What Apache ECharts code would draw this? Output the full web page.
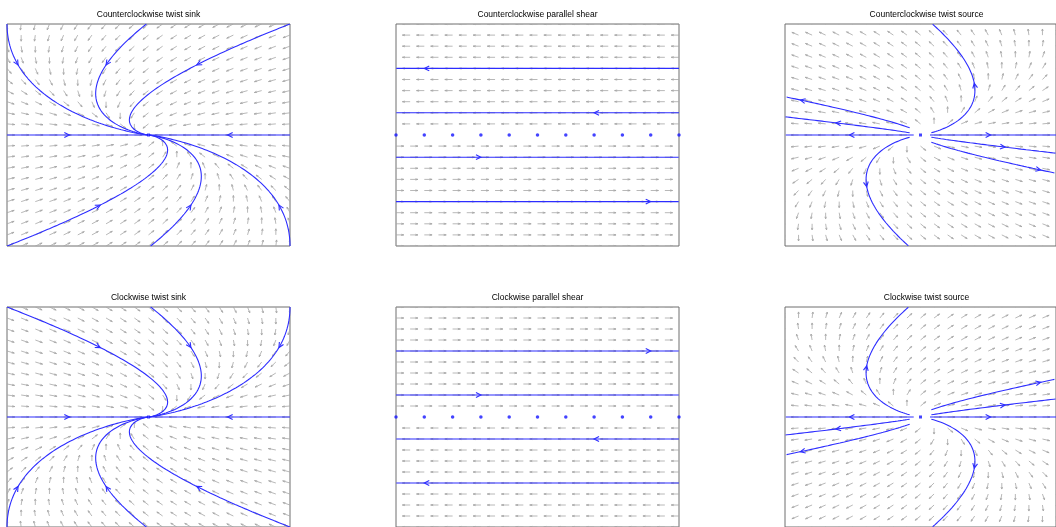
<!DOCTYPE html>
<html><head><meta charset="utf-8">
<script src="https://cdn.jsdelivr.net/npm/echarts@6/dist/echarts.min.js"></script>
<style>html,body{margin:0;padding:0;background:#fff}#c{width:1056px;height:527px}</style>
</head><body><div id="c"></div>
<script>
// ---------- data ----------
const panelTitles = ['Counterclockwise twist sink', 'Counterclockwise parallel shear', 'Counterclockwise twist source',
                     'Clockwise twist sink', 'Clockwise parallel shear', 'Clockwise twist source'];
// linear systems  [x', y'] = A [x, y]
const matrixCcwSink   = [[-1, -1], [0, -1]];
const matrixCcwShear  = [[0, -1], [0, 0]];
const matrixCcwSource = [[1, -1], [0, 1]];
const matrixCwSink    = [[-1, 1], [0, -1]];
const matrixCwShear   = [[0, 1], [0, 0]];
const matrixCwSource  = [[1, 1], [0, 1]];
// direction-field sample positions (both axes)
const fieldGrid = [-1, -0.9, -0.8, -0.7, -0.6, -0.5, -0.4, -0.3, -0.2, -0.1, 0, 0.1, 0.2, 0.3, 0.4, 0.5, 0.6, 0.7, 0.8, 0.9, 1];
const axisMin = -1, axisMax = 1;
// trajectory start points and arrow times
const startsCcwSink   = [[-1, 1], [-0.015, 1], [1, 1], [-1, 0], [1, 0], [1, -1], [0.015, -1], [-1, -1]];
const arrowTCcwSink   = [0.46, 0.46, 0.46, 0.58, 0.58, 0.46, 0.46, 0.46];
const startsCwSink    = [[-1, -1], [-0.015, -1], [1, -1], [-1, 0], [1, 0], [1, 1], [0.015, 1], [-1, 1]];
const arrowTCwSink    = [0.46, 0.46, 0.46, 0.58, 0.58, 0.46, 0.46, 0.46];
const startsCcwShear  = [[1, 0.6], [1, 0.2], [-1, -0.2], [-1, -0.6]];
const arrowTCcwShear  = [3, 3, 3, 3];
const startsCwShear   = [[-1, 0.6], [-1, 0.2], [1, -0.2], [1, -0.6]];
const arrowTCwShear   = [3, 3, 3, 3];
const startsCcwSource = [[0.08, 0.02], [-0.08, 0.065], [-0.08, 0.02], [0.07, 0], [-0.05, 0], [-0.08, -0.02], [0.08, -0.065], [0.08, -0.02]];
const arrowTCcwSource = [3.15, 1.58, 1.7, 2.0, 2.35, 3.15, 1.58, 1.7];
const startsCwSource  = [[0.08, -0.02], [-0.08, -0.065], [-0.08, -0.02], [0.07, 0], [-0.05, 0], [-0.08, 0.02], [0.08, 0.065], [0.08, 0.02]];
const arrowTCwSource  = [3.15, 1.58, 1.7, 2.0, 2.35, 3.15, 1.58, 1.7];
// equilibrium points drawn as dots
const shearDotsX = [-1, -0.8, -0.6, -0.4, -0.2, 0, 0.2, 0.4, 0.6, 0.8, 1];
const originPoint = [[0, 0]];

// ---------- layout / style ----------
const gridLefts = [7, 396, 785], gridTops = [24, 307], gridW = 283, gridH = 222;
const TRAJ = 'rgb(45,45,255)', FIELD = '#a6a6a6', FRAME = '#6e6e6e';
const arrowLen = 0.055;  // field arrow length in data units
const dt = 0.01;

const panels = [
  {A: matrixCcwSink, starts: startsCcwSink, arrowT: arrowTCcwSink, kind: 'twist'},
  {A: matrixCcwShear, starts: startsCcwShear, arrowT: arrowTCcwShear, kind: 'shear'},
  {A: matrixCcwSource, starts: startsCcwSource, arrowT: arrowTCcwSource, kind: 'twist'},
  {A: matrixCwSink, starts: startsCwSink, arrowT: arrowTCwSink, kind: 'twist'},
  {A: matrixCwShear, starts: startsCwShear, arrowT: arrowTCwShear, kind: 'shear'},
  {A: matrixCwSource, starts: startsCwSource, arrowT: arrowTCwSource, kind: 'twist'}
];

function field(A, p) { return [A[0][0]*p[0] + A[0][1]*p[1], A[1][0]*p[0] + A[1][1]*p[1]]; }
function integrate(A, p0) {
  let p = p0.slice(); const pts = [p.slice()];
  for (let i = 0; i < 4000; i++) {
    const k1 = field(A, p);
    const k2 = field(A, [p[0] + dt/2*k1[0], p[1] + dt/2*k1[1]]);
    const k3 = field(A, [p[0] + dt/2*k2[0], p[1] + dt/2*k2[1]]);
    const k4 = field(A, [p[0] + dt*k3[0], p[1] + dt*k3[1]]);
    p = [p[0] + dt/6*(k1[0] + 2*k2[0] + 2*k3[0] + k4[0]), p[1] + dt/6*(k1[1] + 2*k2[1] + 2*k3[1] + k4[1])];
    if (Math.abs(p[0]) > 1.001 || Math.abs(p[1]) > 1.001) break;
    pts.push(p.slice());
    if (Math.hypot(p[0], p[1]) < 0.002) break;
  }
  return pts;
}

const grids = [], xAxes = [], yAxes = [], series = [], graphics = [];
panels.forEach((pn, i) => {
  const col = i % 3, row = Math.floor(i / 3);
  grids.push({left: gridLefts[col], top: gridTops[row], width: gridW, height: gridH, show: true,
              borderColor: FRAME, borderWidth: 1, backgroundColor: 'transparent', containLabel: false});
  xAxes.push({gridIndex: i, type: 'value', min: axisMin, max: axisMax, show: false});
  yAxes.push({gridIndex: i, type: 'value', min: axisMin, max: axisMax, show: false});
  graphics.push({type: 'text', x: gridLefts[col] + gridW/2, y: gridTops[row] - 9,
    style: {text: panelTitles[i], fill: '#000', font: '8.5px "Liberation Sans", Arial, sans-serif',
            textAlign: 'center', textVerticalAlign: 'middle'}});

  // direction field
  const fdata = [];
  fieldGrid.forEach(x => fieldGrid.forEach(y => {
    const v = field(pn.A, [x, y]); const m = Math.hypot(v[0], v[1]);
    if (m > 1e-9) fdata.push([x, y, v[0]/m*arrowLen, v[1]/m*arrowLen]);
  }));
  series.push({type: 'custom', xAxisIndex: i, yAxisIndex: i, clip: true, silent: true, z: 1,
    encode: {x: 0, y: 1}, data: fdata,
    renderItem(params, api) {
      const x = api.value(0), y = api.value(1), u = api.value(2), v = api.value(3);
      const tx = x + u, ty = y + v, a = 0.33, b = 0.33;
      const p0 = api.coord([x, y]), tip = api.coord([tx, ty]);
      const h1 = api.coord([tx - a*(u + b*v), ty - a*(v - b*u)]);
      const h2 = api.coord([tx - a*(u - b*v), ty - a*(v + b*u)]);
      return {type: 'group', children: [
        {type: 'polyline', shape: {points: [p0, tip]}, style: {stroke: FIELD, lineWidth: 0.8, fill: null}},
        {type: 'polyline', shape: {points: [h1, tip, h2]}, style: {stroke: FIELD, lineWidth: 0.8, fill: null}}
      ]};
    }});

  // trajectories
  const arrows = [];
  pn.starts.forEach((s, k) => {
    const pts = integrate(pn.A, s);
    series.push({type: 'line', xAxisIndex: i, yAxisIndex: i, data: pts, showSymbol: false, symbol: 'none',
      clip: true, silent: true, z: 3, lineStyle: {color: TRAJ, width: 1.1}});
    const idx = Math.min(pts.length - 1, Math.round(pn.arrowT[k] / dt));
    const p = pts[idx]; const v = field(pn.A, p);
    arrows.push([p[0], p[1], v[0], v[1]]);
  });
  series.push({type: 'custom', xAxisIndex: i, yAxisIndex: i, clip: true, silent: true, z: 4,
    encode: {x: 0, y: 1}, data: arrows,
    renderItem(params, api) {
      const x = api.value(0), y = api.value(1), u = api.value(2), v = api.value(3);
      const m = Math.hypot(u, v), e = 0.01 / m;
      const p = api.coord([x, y]), q = api.coord([x + u*e, y + v*e]);
      let dx = q[0] - p[0], dy = q[1] - p[1]; const L = Math.hypot(dx, dy); dx /= L; dy /= L;
      const len = 5.5, ang = 0.45;
      const c = Math.cos(ang), s = Math.sin(ang);
      const b1 = [p[0] - len*(dx*c - dy*s), p[1] - len*(dy*c + dx*s)];
      const b2 = [p[0] - len*(dx*c + dy*s), p[1] - len*(dy*c - dx*s)];
      return {type: 'polyline', shape: {points: [b1, p, b2]}, style: {stroke: TRAJ, lineWidth: 1.1, fill: null}};
    }});

  if (pn.kind === 'shear') {
    series.push({type: 'scatter', xAxisIndex: i, yAxisIndex: i, silent: true, z: 5, symbol: 'circle', symbolSize: 3.5,
      itemStyle: {color: 'rgb(20,20,255)'}, data: shearDotsX.map(x => [x, 0])});
  } else {
    series.push({type: 'scatter', xAxisIndex: i, yAxisIndex: i, silent: true, z: 5, symbol: 'rect', symbolSize: 3,
      itemStyle: {color: 'rgb(20,20,255)'}, data: originPoint});
  }
});

const chart = echarts.init(document.getElementById('c'), null, {renderer: 'canvas'});
chart.setOption({animation: false, backgroundColor: '#fff', grid: grids, xAxis: xAxes, yAxis: yAxes,
  series: series, graphic: graphics});
</script></body></html>
